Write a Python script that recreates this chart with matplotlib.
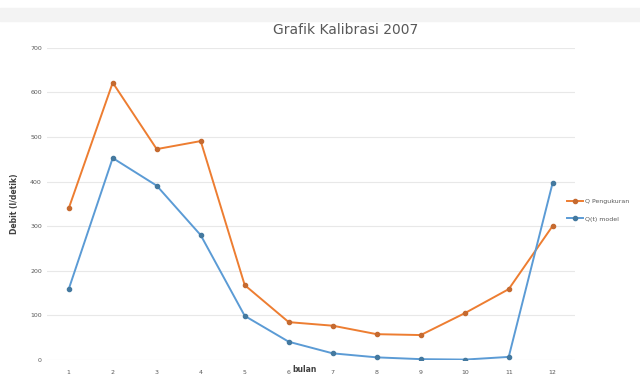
import matplotlib.pyplot as plt
import numpy as np

# monthly discharge, measured vs model
bulan = ['1', '2', '3', '4', '5', '6', '7', '8', '9', '10', '11', '12']
q_ukur = [340, 622, 473, 491, 168, 85, 77, 58, 56, 105, 159, 301]
q_model = [159, 453, 391, 280, 99, 41, 15, 6, 2, 1, 7, 398]

ORANGE = '#ED7D31'
BLUE = '#5B9BD5'
TXT = '#595959'

fig = plt.figure(figsize=(6.4, 3.77), dpi=100)
ax = fig.add_axes([0.073, 0.045, 0.825, 0.828])

x = np.arange(1, len(bulan) + 1)
ax.plot(x, q_ukur, color=ORANGE, lw=1.4, marker='o', ms=3,
        mfc='#c56a30', mec='#c56a30', label='Q Pengukuran', zorder=3)
ax.plot(x, q_model, color=BLUE, lw=1.4, marker='o', ms=3,
        mfc='#44799f', mec='#44799f', label='Q(t) model', zorder=3)

ax.set_xlim(0.5, 12.5)
ax.set_ylim(0, 700)
ax.set_yticks(np.arange(0, 701, 100))
ax.set_xticks(x)
ax.set_xticklabels(bulan)
ax.tick_params(axis='both', length=0, labelsize=4.5, colors=TXT)
ax.tick_params(axis='x', pad=7)
ax.grid(axis='y', color='#e8e8e8', lw=0.8)
ax.set_axisbelow(True)
for s in ax.spines.values():
    s.set_visible(False)

ax.set_ylabel('Debit (l/detik)', fontsize=5.5, color='#404040',
              fontweight='bold', labelpad=8)
ax.text(6.35, -22, 'bulan', fontsize=5.5, color='#404040',
        fontweight='bold', ha='center', va='center')

fig.text(0.54, 0.92, 'Grafik Kalibrasi 2007', fontsize=10, color=TXT,
         ha='center', va='center')

ax.legend(loc='center left', bbox_to_anchor=(0.975, 0.48), frameon=False,
          fontsize=4.5, labelcolor=TXT, handlelength=2.6, handletextpad=0.3,
          labelspacing=1.9)

# light band along the top edge of the chart frame
fig.patches.append(plt.Rectangle((0.0, 0.945), 1.0, 0.035,
                                 transform=fig.transFigure,
                                 color='#f3f3f3', zorder=0))

fig.savefig('out.png', dpi=100)
